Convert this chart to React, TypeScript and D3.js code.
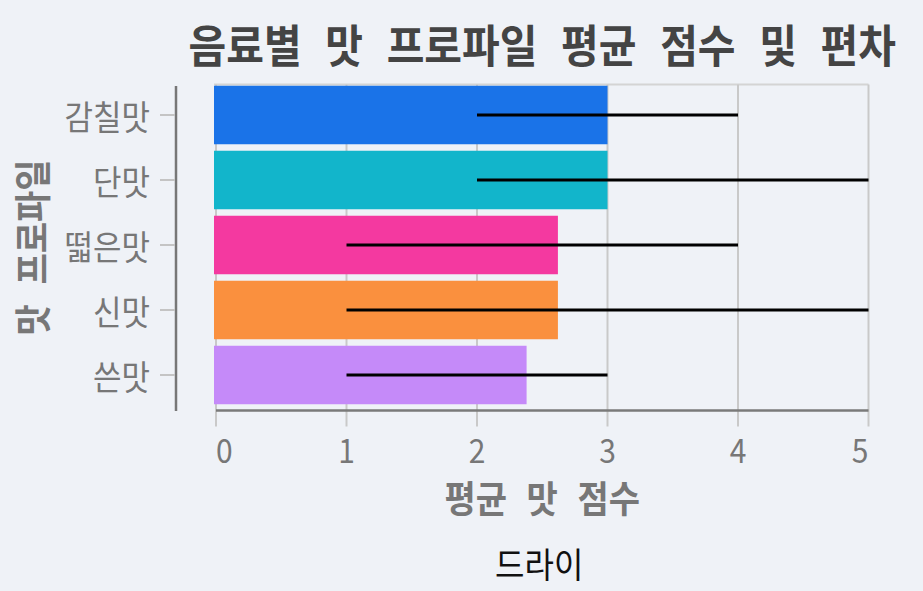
import * as React from "react";
import * as d3 from "d3";

const WIDTH = 923;
const HEIGHT = 591;

const TASTES = ["감칠맛", "단맛", "떫은맛", "신맛", "쓴맛"];
const MEAN_SCORES = [3.0, 3.0, 2.62, 2.62, 2.38];
const LOW_SCORES = [2, 2, 1, 1, 1];
const HIGH_SCORES = [4, 5, 4, 5, 3];
const BAR_COLORS = ["#1a73e8", "#12b5cb", "#f439a0", "#fa903e", "#c58af9"];
const X_TICKS = [0, 1, 2, 3, 4, 5];

const TITLE = "음료별 맛 프로파일 평균 점수 및 편차";
const X_TITLE = "평균 맛 점수";
const Y_TITLE = "맛 프로파일";
const FACET = "드라이";

const FONT = "'Noto Sans CJK KR', 'Noto Sans', sans-serif";
const STRETCH = 1.1; // glyphs in the reference are a bit taller than wide

type LabelProps = {
  x: number;
  y: number;
  size: number;
  anchor?: "start" | "middle" | "end";
  weight?: number;
  fill: string;
  rotate?: number;
  children: string;
};

const Label: React.FC<LabelProps> = ({ x, y, size, anchor = "middle", weight = 400, fill, rotate = 0, children }) => (
  <text
    transform={`translate(${x},${y}) rotate(${rotate}) scale(1,${STRETCH})`}
    textAnchor={anchor}
    dominantBaseline="central"
    fontFamily={FONT}
    fontSize={size}
    fontWeight={weight}
    fill={fill}
    style={{ wordSpacing: `${size * 0.35}px` }}
  >
    {children}
  </text>
);

export default function App() {
  const left = 216;
  const right = 868.5;
  const top = 84.5;
  const bottom = 410.5;

  const x = d3.scaleLinear().domain([0, 5]).range([left, right]);
  const y = d3.scaleBand<string>().domain(TASTES).range([82.5, 407.5]).paddingInner(0.1).paddingOuter(0.05);
  const midX = (left + right) / 2;
  const midY = (top + bottom) / 2;

  return (
    <svg
      width={WIDTH}
      height={HEIGHT}
      style={{ position: "absolute", left: 0, top: 0, display: "block" }}
    >
      <rect width={WIDTH} height={HEIGHT} fill="#eff2f7" />

      {/* frame top */}
      <line x1={left - 2} x2={right} y1={top} y2={top} stroke="#d4d4d4" strokeWidth={2} />

      {/* vertical grid + ticks */}
      {X_TICKS.map((t) => (
        <line key={`g${t}`} x1={x(t)} x2={x(t)} y1={top} y2={bottom + 16} stroke="#c9c9c9" strokeWidth={2} />
      ))}

      {/* bars */}
      {TASTES.map((d, i) => (
        <rect
          key={d}
          x={x(0) - 2}
          y={y(d)!}
          width={x(MEAN_SCORES[i]) - x(0) + 2}
          height={y.bandwidth()}
          fill={BAR_COLORS[i]}
        />
      ))}

      {/* deviation lines */}
      {TASTES.map((d, i) => (
        <line
          key={`e${d}`}
          x1={x(LOW_SCORES[i])}
          x2={x(HIGH_SCORES[i])}
          y1={y(d)! + y.bandwidth() / 2}
          y2={y(d)! + y.bandwidth() / 2}
          stroke="#000"
          strokeWidth={3}
        />
      ))}

      {/* x axis */}
      <line x1={left} x2={right} y1={bottom} y2={bottom} stroke="#7a7a7a" strokeWidth={2.5} />
      {X_TICKS.map((t, i) => (
        <Label
          key={`xl${t}`}
          x={x(t)}
          y={448}
          size={30}
          anchor={i === 0 ? "start" : i === X_TICKS.length - 1 ? "end" : "middle"}
          fill="#777"
        >
          {String(t)}
        </Label>
      ))}
      <Label x={midX} y={497} size={34} weight={700} fill="#777">
        {X_TITLE}
      </Label>

      {/* y axis */}
      <line x1={176} x2={176} y1={86} y2={411} stroke="#777" strokeWidth={2.5} />
      {TASTES.map((d) => {
        const cy = y(d)! + y.bandwidth() / 2;
        return (
          <g key={`yl${d}`}>
            <line x1={160} x2={175} y1={cy} y2={cy} stroke="#c4c4c4" strokeWidth={2} />
            <Label x={150} y={cy} size={31} anchor="end" fill="#777">
              {d}
            </Label>
          </g>
        );
      })}
      <Label x={31} y={midY} size={34} weight={700} fill="#777" rotate={-90}>
        {Y_TITLE}
      </Label>

      {/* title */}
      <Label x={midX} y={43} size={41} weight={700} fill="#444">
        {TITLE}
      </Label>

      {/* facet header */}
      <Label x={midX - 3} y={563} size={32} fill="#111">
        {FACET}
      </Label>
    </svg>
  );
}
